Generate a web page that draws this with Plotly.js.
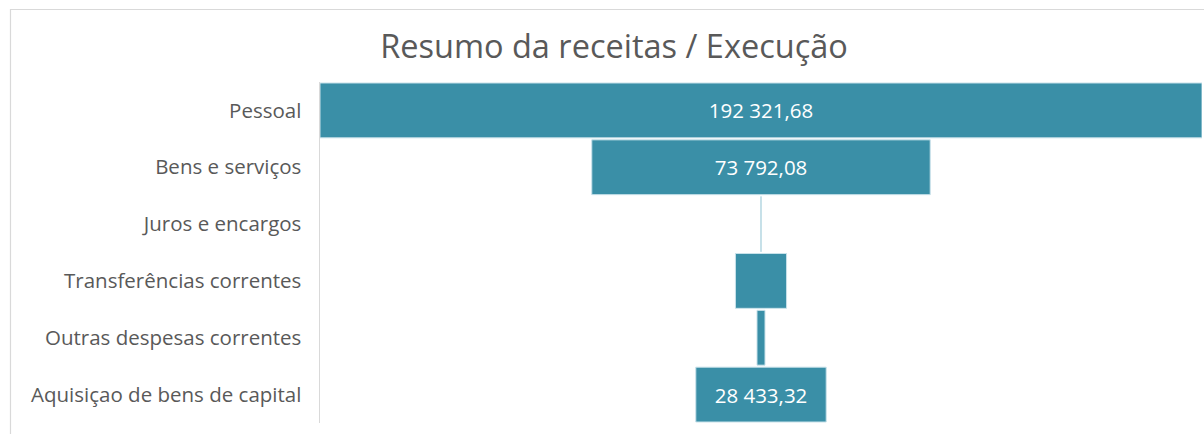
<!DOCTYPE html>
<html>
<head>
<meta charset="utf-8">
<script src="https://cdn.plot.ly/plotly-3.0.1.min.js"></script>
<style>
html,body{margin:0;padding:0;background:#fff;}
#chart{width:1204px;height:434px;}
</style>
</head>
<body>
<div id="chart"></div>
<script>
const categories = ["Pessoal", "Bens e serviços", "Juros e encargos", "Transferências correntes", "Outras despesas correntes", "Aquisiçao de bens de capital"];
const values = [192321.68, 73792.08, 150, 11150, 1750, 28433.32];
const showLabel = [true, true, false, false, false, true];

const texttemplate = showLabel.map(s => s ? "%{x:,.2f}" : "");
const maxV = Math.max(...values);

// plot area in pixels
const L = 320, R = 1202, T = 82, B = 423, W = 1204, H = 434;
const px = v => (v - L) / (R - L);
const py = v => (B - v) / (B - T);

const data = [{
  type: "funnel",
  y: categories,
  x: values,
  texttemplate: texttemplate,
  textposition: "inside",
  insidetextanchor: "middle",
  constraintext: "none",
  textfont: {family: "Open Sans, sans-serif", size: 20.5, color: "#ffffff"},
  marker: {color: "#3a8fa7", line: {color: "#c9e2ea", width: 1}},
  connector: {visible: false},
  hoverinfo: "none"
}];

const layout = {
  width: W, height: H,
  margin: {l: L, r: W - R, t: T, b: H - B},
  paper_bgcolor: "#ffffff",
  plot_bgcolor: "#ffffff",
  separators: ", ",
  showlegend: false,
  funnelgap: 0.035,
  title: {
    text: "Resumo da receitas / Execução",
    font: {family: "Open Sans, sans-serif", size: 32.5, color: "#595959"},
    xref: "container", x: 614 / W, xanchor: "center",
    yref: "container", y: 1 - 47 / H, yanchor: "middle"
  },
  xaxis: {
    range: [-maxV / 2, maxV / 2],
    visible: false, showgrid: false, zeroline: false, fixedrange: true
  },
  yaxis: {
    autorange: "reversed",
    showline: true, linecolor: "#d9d9d9", linewidth: 1.5,
    ticks: "", ticklen: 0,
    tickfont: {family: "Open Sans, sans-serif", size: 20.5, color: "#595959"},
    ticklabelstandoff: 13,
    showgrid: false, zeroline: false, fixedrange: true
  },
  shapes: [
    {type: "line", xref: "paper", yref: "paper", x0: px(10), x1: px(1300), y0: py(9.5), y1: py(9.5),
     line: {color: "#d9d9d9", width: 1.2}},
    {type: "line", xref: "paper", yref: "paper", x0: px(10.5), x1: px(10.5), y0: py(9), y1: py(500),
     line: {color: "#d9d9d9", width: 1.2}}
  ]
};

Plotly.newPlot("chart", data, layout, {displayModeBar: false, staticPlot: true});
</script>
</body>
</html>
